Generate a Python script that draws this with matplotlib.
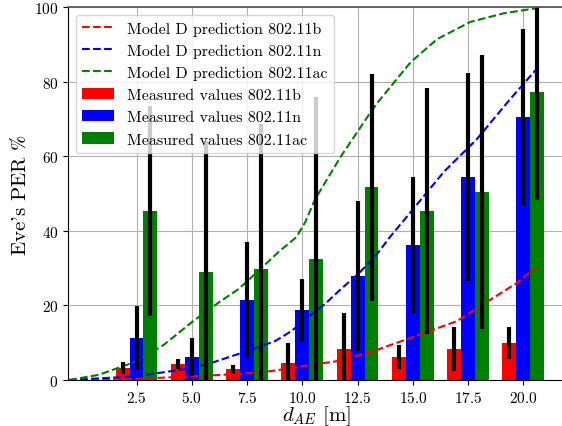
import matplotlib
matplotlib.use("Agg")
import matplotlib.pyplot as plt
import numpy as np

plt.rcParams['font.family'] = 'serif'
plt.rcParams['font.serif'] = ['cmr10']
plt.rcParams['mathtext.fontset'] = 'cm'
plt.rcParams['axes.formatter.use_mathtext'] = True

# Measured data
distances = [2.5, 5.0, 7.5, 10.0, 12.5, 15.0, 17.5, 20.0]
meas_b = [3.2, 4.3, 2.9, 4.6, 8.3, 6.2, 8.3, 9.9]
err_b = [1.5, 1.3, 1.2, 5.2, 9.7, 3.2, 6.0, 4.2]
meas_n = [11.3, 6.2, 21.4, 18.8, 27.9, 36.2, 54.4, 70.5]
err_n = [8.5, 5.1, 15.6, 8.3, 20.0, 18.1, 27.9, 23.5]
meas_ac = [45.3, 29.0, 29.8, 32.4, 51.7, 45.3, 50.4, 77.2]
err_ac = [28.2, 35.0, 38.8, 43.6, 30.4, 32.9, 36.7, 29.0]

# Model D predictions
model_b_x = [-0.55, 2.5, 5.0, 7.12, 8.6, 10.13, 11.62, 13.1, 14.76, 17.0, 18.5, 19.7, 20.6]
model_b_y = [0.0, 0.3, 1.0, 1.6, 2.4, 3.8, 5.1, 7.5, 11.0, 15.8, 21.5, 26.0, 30.3]
model_n_x = [-0.55, 2.5, 5.0, 6.0, 7.12, 8.02, 8.79, 9.5, 10.27, 11.03, 11.75, 12.52,
             13.28, 14.0, 14.9, 16.4, 17.9, 19.4, 20.6]
model_n_y = [0.0, 1.0, 3.2, 4.8, 7.0, 8.8, 10.5, 13.1, 16.9, 20.4, 24.4, 28.4,
             33.0, 38.6, 45.0, 55.8, 64.6, 75.3, 83.4]
model_ac_x = [-0.55, 0.8, 2.5, 3.75, 5.0, 6.27, 7.12, 8.02, 8.92, 9.73, 10.13, 10.58,
              11.75, 13.0, 13.42, 14.0, 14.9, 16.1, 17.6, 19.1, 20.6]
model_ac_y = [0.0, 1.4, 5.0, 9.5, 15.5, 21.0, 24.4, 29.3, 34.3, 38.3, 42.3, 48.5,
              60.0, 71.0, 74.5, 78.7, 85.2, 91.4, 96.0, 98.3, 99.7]

fig = plt.figure(figsize=(5.62, 4.27), dpi=100)
ax = fig.add_axes([0.121, 0.1077, 0.885, 0.8735])
ax.set_axisbelow(True)
ax.grid(True, color='#b0b0b0', linewidth=0.8)

w = 0.63
x = np.array(distances)
ekw = dict(elinewidth=3.0, ecolor='black', capsize=0)
lb, = ax.plot(model_b_x, model_b_y, '--', color='red', lw=1.5, label='Model D prediction 802.11b')
ln, = ax.plot(model_n_x, model_n_y, '--', color='blue', lw=1.5, label='Model D prediction 802.11n')
lac, = ax.plot(model_ac_x, model_ac_y, '--', color='green', lw=1.5, label='Model D prediction 802.11ac')
bb = ax.bar(x - w, meas_b, w, yerr=err_b, color='red', error_kw=ekw, label='Measured values 802.11b')
bn = ax.bar(x, meas_n, w, yerr=err_n, color='blue', error_kw=ekw, label='Measured values 802.11n')
bac = ax.bar(x + w, meas_ac, w, yerr=err_ac, color='green', error_kw=ekw, label='Measured values 802.11ac')

ax.set_xlim(-0.6, 21.9)
ax.set_ylim(0, 100)
ax.set_xticks(distances)
ax.set_yticks([0, 20, 40, 60, 80, 100])
ax.tick_params(labelsize=11, length=3.5)
ax.spines['right'].set_visible(False)
ax.spines['top'].set_color('#555555')
ax.spines['top'].set_linewidth(1.2)
ax.set_xlabel(r'$d_{AE}$ [m]', fontsize=15, labelpad=-1)
ax.set_ylabel(r"Eve's PER $\%$", fontsize=15, labelpad=3, math_fontfamily='stix')

ax.legend(handles=[lb, ln, lac, bb, bn, bac], loc='upper left', fontsize=11.5,
          framealpha=0.8, labelspacing=0.5)

fig.savefig('out.png', dpi=100)
